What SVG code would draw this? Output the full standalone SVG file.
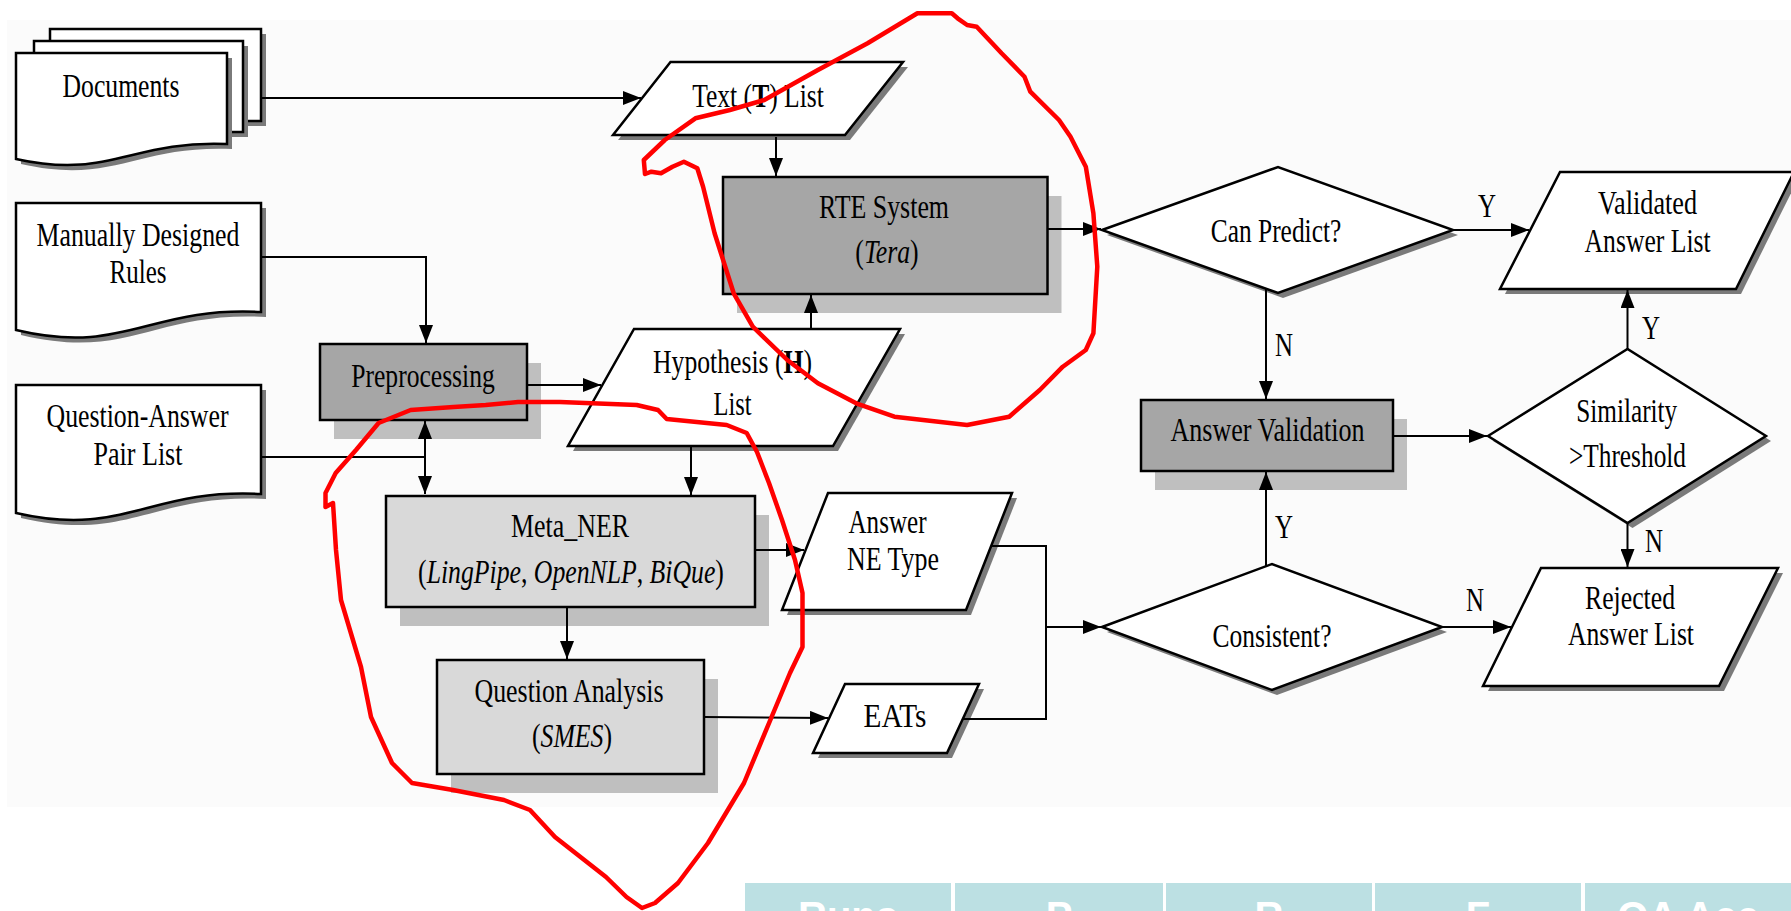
<svg xmlns="http://www.w3.org/2000/svg" width="1791" height="911" viewBox="0 0 1791 911">
<defs>
<marker id="ah" markerUnits="userSpaceOnUse" markerWidth="18" markerHeight="14" refX="18" refY="7" orient="auto-start-reverse"><path d="M0,0 L18,7 L0,14 z" fill="#000"/></marker>
<style>
.ln{fill:none;stroke:#000;stroke-width:2}
.ar{marker-end:url(#ah)}
.bx{stroke:#000;stroke-width:2.5}
.dk{fill:#a6a6a6}
.lt{fill:#d9d9d9}
.sh{fill:#bfbfbf}
.sd{fill:#7a7a7a}
.wf{fill:#fff;stroke:#000;stroke-width:2.5;stroke-linejoin:miter}
.t{font-family:"Liberation Serif","Times New Roman",serif;font-size:33px;text-anchor:middle;fill:#000}
.s{text-anchor:start}
.red{fill:none;stroke:#ff0000;stroke-width:4.5;stroke-linejoin:round;stroke-linecap:round}
.cell{fill:#bce0e3}
.ct{font-family:"Liberation Sans",Arial,sans-serif;font-size:40px;font-weight:bold;fill:#fff;text-anchor:middle}
</style>
</defs>
<rect x="0" y="0" width="1791" height="911" fill="#fff"/>
<rect x="7" y="20" width="1784" height="787" fill="#fbfbfb"/>

<g id="documents">
<rect x="55" y="34" width="211" height="92" class="sd"/>
<rect x="50" y="29" width="211" height="92" class="wf"/>
<rect x="39" y="46" width="209" height="91" class="sd"/>
<rect x="34" y="41" width="209" height="91" class="wf"/>
<path d="M16,53 H227 V144 C130,140 110,180 16,159 Z" class="sd" transform="translate(5,5)"/>
<path d="M16,53 H227 V144 C130,140 110,180 16,159 Z" class="wf"/>
<text class="t" x="121" y="97" textLength="117" lengthAdjust="spacingAndGlyphs">Documents</text>
</g>

<g id="rules">
<path d="M16,203 H261 V312 C148,306 125,356 16,330 Z" class="sd" transform="translate(5,5)"/>
<path d="M16,203 H261 V312 C148,306 125,356 16,330 Z" class="wf"/>
<text class="t" x="138" y="246" textLength="203" lengthAdjust="spacingAndGlyphs">Manually Designed</text>
<text class="t" x="138" y="283" textLength="57" lengthAdjust="spacingAndGlyphs">Rules</text>
</g>

<g id="qa-pairs">
<path d="M16,385 H261 V494 C148,488 125,538 16,513 Z" class="sd" transform="translate(5,5)"/>
<path d="M16,385 H261 V494 C148,488 125,538 16,513 Z" class="wf"/>
<text class="t" x="137.5" y="427" textLength="182" lengthAdjust="spacingAndGlyphs">Question-Answer</text>
<text class="t" x="138" y="465" textLength="89" lengthAdjust="spacingAndGlyphs">Pair List</text>
</g>

<g id="preprocessing">
<rect x="334" y="363" width="207" height="76" class="sh"/>
<rect x="320" y="344" width="207" height="76" class="dk bx"/>
<text class="t" x="423" y="387" textLength="143.5" lengthAdjust="spacingAndGlyphs">Preprocessing</text>
</g>

<g id="text-list">
<polygon points="670.5,62 903,62 845,135 613,135" class="sd" transform="translate(5,5)"/>
<polygon points="670.5,62 903,62 845,135 613,135" class="wf"/>
<text class="t" transform="translate(758,107) scale(0.775,1)">Text (<tspan font-weight="bold">T</tspan>) List</text>
</g>

<g id="rte">
<rect x="737" y="196" width="324.5" height="117" class="sh"/>
<rect x="723" y="177" width="324.5" height="117" class="dk bx"/>
<text class="t" x="884" y="218" textLength="130" lengthAdjust="spacingAndGlyphs">RTE System</text>
<text class="t" transform="translate(887,263) scale(0.78,1)">(<tspan font-style="italic">Tera</tspan>)</text>
</g>

<g id="hypothesis">
<polygon points="634,329 900,329 833,446 568,446" class="sd" transform="translate(5,5)"/>
<polygon points="634,329 900,329 833,446 568,446" class="wf"/>
<text class="t" transform="translate(732.5,373) scale(0.778,1)">Hypothesis (<tspan font-weight="bold">H</tspan>)</text>
<text class="t" x="732.5" y="415" textLength="38" lengthAdjust="spacingAndGlyphs">List</text>
</g>

<g id="meta-ner">
<rect x="400" y="515" width="369" height="111" class="sh"/>
<rect x="386" y="496" width="369" height="111" class="lt bx"/>
<text class="t" x="570" y="537" textLength="118" lengthAdjust="spacingAndGlyphs">Meta_NER</text>
<text class="t" transform="translate(571,583) scale(0.78,1)">(<tspan font-style="italic">LingPipe</tspan>, <tspan font-style="italic">OpenNLP</tspan>, <tspan font-style="italic">BiQue</tspan>)</text>
</g>

<g id="question-analysis">
<rect x="451" y="679" width="267" height="114" class="sh"/>
<rect x="437" y="660" width="267" height="114" class="lt bx"/>
<text class="t" x="569" y="702" textLength="189" lengthAdjust="spacingAndGlyphs">Question Analysis</text>
<text class="t" transform="translate(572,747) scale(0.78,1)">(<tspan font-style="italic">SMES</tspan>)</text>
</g>

<g id="answer-ne-type">
<polygon points="828,493 1012,493 966,610 782,610" class="sd" transform="translate(5,5)"/>
<polygon points="828,493 1012,493 966,610 782,610" class="wf"/>
<text class="t s" x="848.5" y="533" textLength="78" lengthAdjust="spacingAndGlyphs">Answer</text>
<text class="t s" x="847" y="570" textLength="92" lengthAdjust="spacingAndGlyphs">NE Type</text>
</g>

<g id="eats">
<polygon points="845,684 979,684 947,753 813,753" class="sd" transform="translate(5,5)"/>
<polygon points="845,684 979,684 947,753 813,753" class="wf"/>
<text class="t" x="895" y="727" textLength="63" lengthAdjust="spacingAndGlyphs">EATs</text>
</g>

<g id="can-predict">
<polygon points="1102,230 1278,167 1453,230 1278,293" class="sd" transform="translate(5,5)"/>
<polygon points="1102,230 1278,167 1453,230 1278,293" class="wf"/>
<text class="t" x="1276" y="242" textLength="130.5" lengthAdjust="spacingAndGlyphs">Can Predict?</text>
</g>

<g id="validated">
<polygon points="1560,172 1794,172 1736,289 1500,289" class="sd" transform="translate(5,5)"/>
<polygon points="1560,172 1794,172 1736,289 1500,289" class="wf"/>
<text class="t" x="1647.6" y="214" textLength="99" lengthAdjust="spacingAndGlyphs">Validated</text>
<text class="t" x="1647.6" y="252" textLength="126" lengthAdjust="spacingAndGlyphs">Answer List</text>
</g>

<g id="answer-validation">
<rect x="1155" y="419" width="252" height="71" class="sh"/>
<rect x="1141" y="400" width="252" height="71" class="dk bx"/>
<text class="t" x="1267.5" y="440.6" textLength="194" lengthAdjust="spacingAndGlyphs">Answer Validation</text>
</g>

<g id="similarity">
<polygon points="1488,436 1627.5,349 1766,436 1627.5,523" class="sd" transform="translate(5,5)"/>
<polygon points="1488,436 1627.5,349 1766,436 1627.5,523" class="wf"/>
<text class="t" x="1626.7" y="421.5" textLength="101" lengthAdjust="spacingAndGlyphs">Similarity</text>
<text class="t" x="1627.5" y="467" textLength="117" lengthAdjust="spacingAndGlyphs">&gt;Threshold</text>
</g>

<g id="consistent">
<polygon points="1102,627 1272,564 1442,627 1272,690" class="sd" transform="translate(5,5)"/>
<polygon points="1102,627 1272,564 1442,627 1272,690" class="wf"/>
<text class="t" x="1272" y="647" textLength="119" lengthAdjust="spacingAndGlyphs">Consistent?</text>
</g>

<g id="rejected">
<polygon points="1541,568 1778,568 1719,686 1483,686" class="sd" transform="translate(5,5)"/>
<polygon points="1541,568 1778,568 1719,686 1483,686" class="wf"/>
<text class="t" x="1630" y="609" textLength="90" lengthAdjust="spacingAndGlyphs">Rejected</text>
<text class="t" x="1631" y="645" textLength="126" lengthAdjust="spacingAndGlyphs">Answer List</text>
</g>

<g id="connectors">
<path class="ln ar" d="M261,98 H641"/>
<path class="ln ar" d="M261,257 H426 V343"/>
<path class="ln" d="M261,457 H425"/>
<path class="ln ar" d="M425,458 V421"/>
<path class="ln ar" d="M425,456 V494"/>
<path class="ln ar" d="M527,385 H601"/>
<path class="ln ar" d="M776,137 V176"/>
<path class="ln ar" d="M811,329 V295"/>
<path class="ln ar" d="M691,447 V495"/>
<path class="ln ar" d="M1047,229 H1101"/>
<path class="ln ar" d="M1453,230 H1529"/>
<path class="ln ar" d="M1266,289 V399"/>
<path class="ln ar" d="M1393,436 H1487"/>
<path class="ln ar" d="M1627.5,349 V290"/>
<path class="ln ar" d="M1627.5,523 V567"/>
<path class="ln ar" d="M1266,566 V472"/>
<path class="ln ar" d="M1442,627 H1511"/>
<path class="ln ar" d="M755,550 H804"/>
<path class="ln ar" d="M567,607 V659"/>
<path class="ln ar" d="M704,717 L828,718"/>
<path class="ln" d="M991,546 H1046 V719 H963"/>
<path class="ln ar" d="M1046,627 H1101"/>
<text class="t" x="1487" y="217" textLength="18" lengthAdjust="spacingAndGlyphs">Y</text>
<text class="t" x="1284" y="356" textLength="18" lengthAdjust="spacingAndGlyphs">N</text>
<text class="t" x="1651" y="339" textLength="18" lengthAdjust="spacingAndGlyphs">Y</text>
<text class="t" x="1654" y="552" textLength="18" lengthAdjust="spacingAndGlyphs">N</text>
<text class="t" x="1284" y="538" textLength="18" lengthAdjust="spacingAndGlyphs">Y</text>
<text class="t" x="1475" y="611" textLength="18" lengthAdjust="spacingAndGlyphs">N</text>
</g>

<g id="table-strip">
<rect class="cell" x="745" y="883" width="206" height="30"/>
<rect class="cell" x="955" y="883" width="208" height="30"/>
<rect class="cell" x="1166" y="883" width="206" height="30"/>
<rect class="cell" x="1375" y="883" width="206" height="30"/>
<rect class="cell" x="1585" y="883" width="210" height="30"/>
<text class="ct" x="848" y="930">Runs</text>
<text class="ct" x="1059" y="930">P</text>
<text class="ct" x="1269" y="930">R</text>
<text class="ct" x="1478" y="930">F</text>
<text class="ct" x="1688" y="930">QA Acc</text>
</g>

<g id="annotations">
<path class="red" d="M645,174 L643.8,160 L664.8,140 L695.4,118.3 L729.9,110 L764.3,100 L817.9,70 L867.6,43.3 L917.4,13.3 L951.8,13.3 L957.6,18.3 L967.1,25 L976.7,26.7 L1001.6,53.3 L1024.5,76.7 L1030.3,91.7 L1059,120 L1070.5,136.7 L1085.8,166.7 L1093.4,213.3 L1097.3,266.7 L1093.4,333.3 L1085.8,350 L1062.8,366.7 L1039.8,390 L1009.2,416.7 L967.1,425 L894.4,416.7 L856.2,403.3 L817.9,383.3 L787.3,360 L752.8,326.7 L733.7,293.3 L714.6,233.3 L703.1,186.7 L697.3,168.3 L683.9,161.7 L672.5,166.7 L661,173.3 L651.4,171.7 L645,174"/>
<path class="red" d="M325.5,507 L325.5,493 L335.7,473 L356,450 L378.6,423 L410.7,410 L453.6,407 L485.7,405 L518,402 L560,402 L636.7,405 L658,410 L666.7,419 L726.7,425 L746.7,433 L757,452 L769,483 L782,520 L795,560 L802.5,593 L802.5,647 L790,673 L774.5,710 L744,783 L708,843 L678,883 L655,903 L642,908 L626.5,897 L606,877 L555,837 L530,810 L504,800 L453,790 L412,783 L402,773 L392,763 L371,717 L361,667 L341,600 L336,550 L333,503 L325.5,507"/>
</g>
</svg>
